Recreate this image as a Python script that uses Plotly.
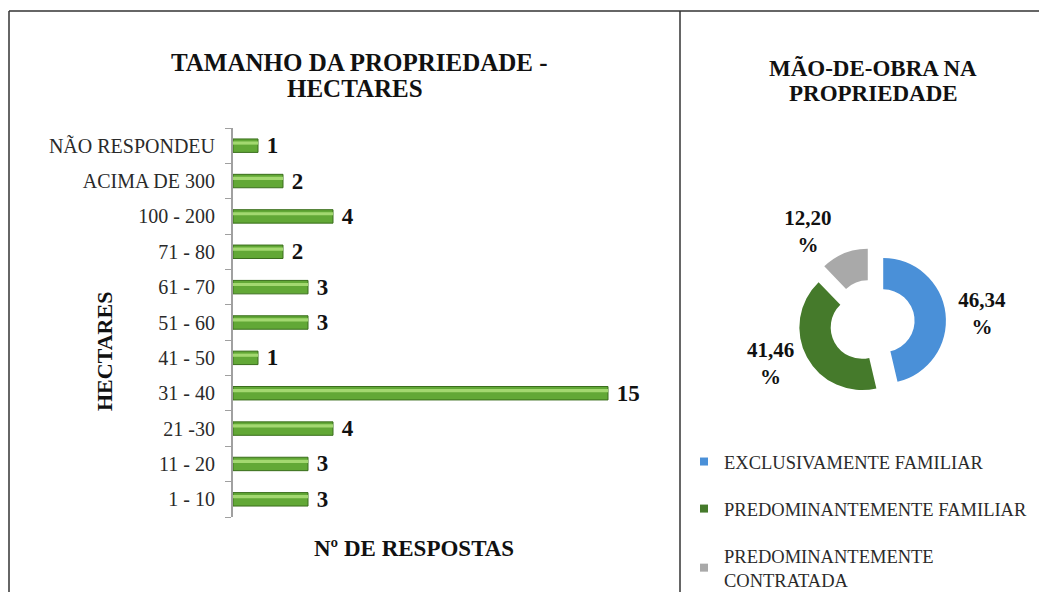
import plotly.graph_objects as go

# ---- data ----
size_labels = ["1 - 10", "11 - 20", "21 -30", "31 - 40", "41 - 50", "51 - 60",
               "61 - 70", "71 - 80", "100 - 200", "ACIMA DE 300", "NÃO RESPONDEU"]
size_counts = [3, 3, 4, 15, 1, 3, 3, 2, 4, 2, 1]

labor_labels = ["EXCLUSIVAMENTE FAMILIAR", "PREDOMINANTEMENTE FAMILIAR",
                "PREDOMINANTEMENTE<br>CONTRATADA"]
labor_pct = [46.34, 41.46, 12.20]
labor_colors = ["#4a90d8", "#457a2b", "#a9a9a9"]

title_left = ["TAMANHO DA PROPRIEDADE -", "HECTARES"]
title_right = ["MÃO-DE-OBRA NA", "PROPRIEDADE"]

W, H = 1039, 592
SERIF = "Liberation Serif, Times New Roman, serif"

def px(x):
    return x / W

def py(y):
    return 1 - y / H

fig = go.Figure()

# main bars
fig.add_trace(go.Bar(
    x=size_counts, y=size_labels, orientation="h",
    width=0.38, offset=-0.19,
    marker=dict(color="#62a836", line=dict(color="#3a6e1c", width=1)),
    text=[f"\u00a0<b>{v}</b>" for v in size_counts], textposition="outside",
    constraintext="none",
    textfont=dict(family=SERIF, size=23, color="#111"),
    cliponaxis=False, showlegend=False, hoverinfo="x+y",
))
# highlight strip for cylinder look
fig.add_trace(go.Bar(
    x=size_counts, y=size_labels, orientation="h",
    width=0.09, offset=0.03,
    marker=dict(color="#a3d870", line=dict(width=0)),
    showlegend=False, hoverinfo="skip",
))

# donut
pie_text = [f"<b>{v:.2f}".replace(".", ",") + "<br>%</b>" for v in labor_pct]
R = 74
fig.add_trace(go.Pie(
    labels=labor_labels, values=labor_pct, sort=False, direction="clockwise",
    rotation=0, hole=0.5, pull=[0.18, 0.18, 0.18],
    marker=dict(colors=labor_colors),
    text=pie_text, textinfo="text", textposition="outside",
    textfont=dict(family=SERIF, size=21, color="#111"),
    domain=dict(x=[px(872 - R), px(872 + R)], y=[py(322 + R), py(322 - R)]),
    showlegend=False, hoverinfo="label+percent", automargin=False,
))

# legend entries
for i, (lab, col) in enumerate(zip(labor_labels, labor_colors)):
    fig.add_trace(go.Scatter(
        x=[None], y=[None], mode="markers", name=lab,
        marker=dict(symbol="square", size=8, color=col),
        legendgroup=f"g{i}", xaxis="x2", yaxis="y2", showlegend=True,
    ))

ann = dict(xref="paper", yref="paper", showarrow=False, xanchor="center", yanchor="middle")

fig.update_layout(
    width=W, height=H,
    margin=dict(l=0, r=0, t=0, b=0, autoexpand=False),
    paper_bgcolor="white", plot_bgcolor="white",
    barmode="overlay",
    font=dict(family=SERIF, color="#222"),
    xaxis=dict(domain=[px(233), px(658)], range=[0, 17], visible=False),
    yaxis=dict(domain=[py(517), py(128)], type="category",
               categoryorder="array", categoryarray=size_labels,
               showline=True, linecolor="#a0a0a0", linewidth=2,
               ticks="outside", tickson="boundaries", ticklen=6,
               tickcolor="#a0a0a0", ticklabelstandoff=12,
               tickfont=dict(family=SERIF, size=20, color="#2a2a2a"),
               showgrid=False, zeroline=False),
    xaxis2=dict(domain=[0.9, 0.95], visible=False),
    yaxis2=dict(domain=[0.9, 0.95], visible=False, anchor="x2"),
    legend=dict(x=px(684), y=py(443), xanchor="left", yanchor="top",
                font=dict(family=SERIF, size=18.5, color="#2a2a2a"),
                tracegroupgap=20, itemwidth=30, bgcolor="rgba(0,0,0,0)"),
    annotations=[
        dict(text=f"<b>{title_left[0]}</b>", x=px(359), y=py(63),
             font=dict(family=SERIF, size=25, color="#111"), **ann),
        dict(text=f"<b>{title_left[1]}</b>", x=px(355), y=py(88),
             font=dict(family=SERIF, size=25, color="#111"), **ann),
        dict(text=f"<b>{title_right[0]}</b>", x=px(873), y=py(68),
             font=dict(family=SERIF, size=23, color="#111"), **ann),
        dict(text=f"<b>{title_right[1]}</b>", x=px(873), y=py(93),
             font=dict(family=SERIF, size=23, color="#111"), **ann),
        dict(text="<b>HECTARES</b>", x=px(104), y=py(352), textangle=-90,
             font=dict(family=SERIF, size=22, color="#111"), **ann),
        dict(text="<b>Nº DE RESPOSTAS</b>", x=px(414), y=py(548),
             font=dict(family=SERIF, size=23, color="#111"), **ann),
    ],
    shapes=[
        dict(type="line", xref="paper", yref="paper", x0=px(9), x1=px(9),
             y0=0, y1=py(11), line=dict(color="#333", width=1.5)),
        dict(type="line", xref="paper", yref="paper", x0=px(9), x1=1,
             y0=py(11), y1=py(11), line=dict(color="#333", width=1.5)),
        dict(type="line", xref="paper", yref="paper", x0=px(680), x1=px(680),
             y0=0, y1=py(11), line=dict(color="#333", width=1.5)),
    ],
)

fig.write_html("out.html", config={"displayModeBar": False},
               post_script="document.body.style.margin='0';document.documentElement.style.overflow='hidden';")
